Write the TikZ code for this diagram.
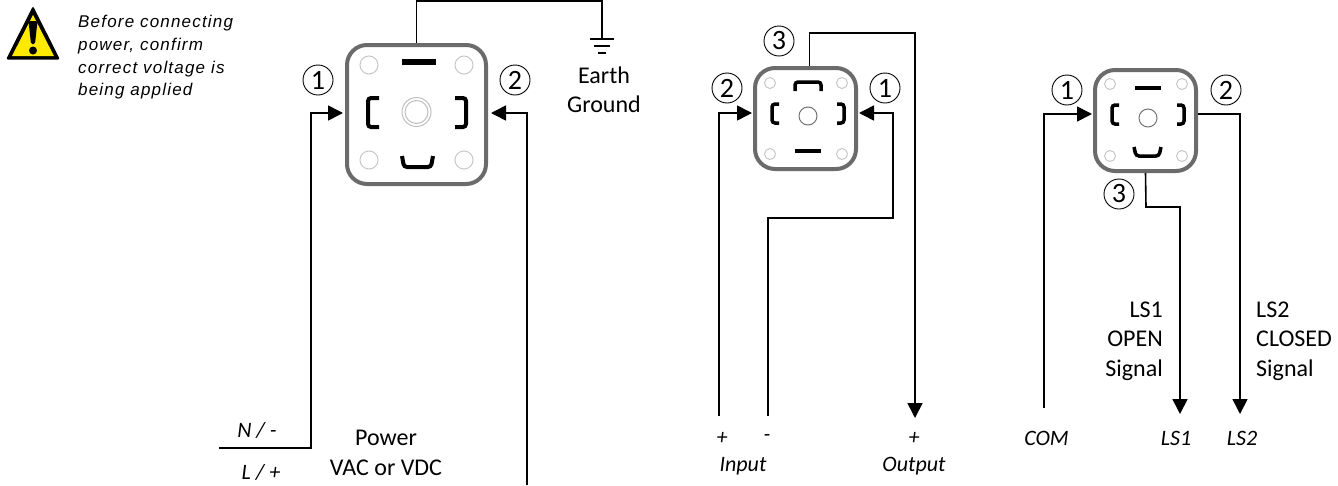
\documentclass[tikz,border=0pt]{standalone}
\usepackage{fontspec}
\setmainfont{Carlito}
\newfontfamily\warnfont[LetterSpace=7]{Liberation Sans}
\usetikzlibrary{arrows.meta}
\tikzset{
  portbox/.style={draw=black!58, line width=4pt, rounded corners=20pt, inner sep=0pt},
  bighole/.style={circle, draw=black!22, line width=1pt, inner sep=0pt, minimum size=18pt},
  smallhole/.style={circle, draw=black!22, line width=1pt, inner sep=0pt, minimum size=11pt},
  hub/.style={circle, draw=black!55, line width=1pt, inner sep=0pt, minimum size=18pt},
  pinmark/.style={line width=3.5pt, rounded corners=3pt},
  wire/.style={line width=1.6pt},
  pinnum/.style={circle, draw, line width=0.9pt, inner sep=0pt, minimum size=30pt, font=\fontsize{28}{28}\selectfont},
  sidelabel/.style={font=\fontsize{24}{29.5}\selectfont, align=center},
  portlabel/.style={font=\fontsize{22}{26}\selectfont\itshape},
}
\begin{document}
\begin{tikzpicture}[>={Triangle[length=15pt,width=15pt]}, x=1pt, y=-1pt]
\useasboundingbox (0,0) rectangle (1338,485);

% === Warning ===
\fill[black, rounded corners=2pt] (33,6) -- (60,59.5) -- (6,59.5) -- cycle;
\fill[yellow!92!orange] (33,15) -- (54,56) -- (12,56) -- cycle;
\fill[black, rounded corners=1.5pt] (28.5,21) -- (37.5,21) -- (35,44) -- (31,44) -- cycle;
\fill[black] (33,50.5) circle (4);
\node[anchor=north west, align=left, inner sep=0pt, font=\warnfont\itshape\fontsize{17}{22.8}\selectfont] (WarnText) at (78,15)
  {Before connecting\\power, confirm\\correct voltage is\\being applied};

% === Power Box ===
\node[portbox, minimum size=139pt] (PowerBox) at (416.5,114.5) {};
\foreach \i/\px/\py in {1/369/65, 2/464/65, 3/369/160, 4/464/160}{
  \node[bighole] (PowerHole-\i) at (\px,\py) {};
}
\node[hub, draw=black!25, minimum size=29pt] (PowerHubA) at (416.5,112) {};
\node[hub, draw=black!25, minimum size=23pt] (PowerHubB) at (416.5,112) {};
\draw[line width=6pt] (402,62) -- (436,62);
\draw[pinmark, line width=4pt] (379,98) -- (368,98) -- (368,127) -- (379,127);
\draw[pinmark, line width=4pt] (455,98) -- (466,98) -- (466,127) -- (455,127);
\draw[pinmark, line width=4pt] (402,156) -- (404,167) -- (431,167) -- (433,156);

% === Power Wires ===
\node[pinnum] (PowerNumA) at (318,80) {1};
\node[pinnum] (PowerNumB) at (515,80) {2};
\coordinate (PowerN) at (219,448);
\coordinate (PowerL) at (527,485);
\coordinate (EarthTop) at (602,38);
\draw[wire, ->, shorten >=2pt] (PowerN) -- (311,448) -- (311,113) -- (PowerBox.west |- 0,113);
\draw[wire, ->, shorten >=3pt] (PowerL) -- (527,113) -- (PowerBox.east |- 0,113);
\draw[wire] (PowerBox.north) -- (416.5,1) -- (602,1) -- (EarthTop);
\draw[wire] (590,39) -- (614,39);
\draw[wire] (594,46) -- (610,46);
\draw[wire] (598,53) -- (606,53);
\node[sidelabel] (EarthLabel) at (604,90) {Earth\\Ground};
\node[portlabel] (LabelN) at (257,430) {N / -};
\node[portlabel] (LabelL) at (261,472) {L / +};
\node[sidelabel] (PowerLabel) at (386,453) {Power\\VAC or VDC};

% === Valve Box ===
\node[portbox, minimum size=101pt] (ValveBox) at (805.5,118.5) {};
\foreach \i/\px/\py in {1/770/83, 2/842/83, 3/770/154, 4/842/154}{
  \node[smallhole] (ValveHole-\i) at (\px,\py) {};
}
\node[hub] (ValveHub) at (808,116) {};
\draw[pinmark] (795,91) -- (795,82) -- (821,82) -- (821,91);
\draw[pinmark] (779,104) -- (772,104) -- (772,123) -- (779,123);
\draw[pinmark] (837,104) -- (844,104) -- (844,123) -- (837,123);
\draw[line width=3.5pt] (795,151) -- (821,151);

% === Valve Wires ===
\node[pinnum] (ValveNumC) at (779,41) {3};
\node[pinnum] (ValveNumB) at (727,88) {2};
\node[pinnum] (ValveNumA) at (885,88) {1};
\coordinate (InPlus) at (719,416);
\coordinate (InMinus) at (768,416);
\coordinate (OutPlus) at (915,418);
\draw[wire, ->, shorten >=1pt] (InPlus) -- (719,113) -- (ValveBox.west |- 0,113);
\draw[wire, ->, shorten >=1pt] (InMinus) -- (768,218) -- (893,218) -- (893,113) -- (ValveBox.east |- 0,113);
\draw[wire, ->] (809.5,66) -- (809.5,33) -- (915,33) -- (OutPlus);
\node[portlabel] (LabelInP) at (722,438) {+};
\node[portlabel] (LabelInM) at (767,438) {-};
\node[portlabel] (LabelOutP) at (914,438) {+};
\node[portlabel] (LabelIn) at (743,466) {Input};
\node[portlabel] (LabelOut) at (914,466) {Output};

% === Switch Box ===
\node[portbox, minimum size=101pt] (SwitchBox) at (1145.5,120.5) {};
\foreach \i/\px/\py in {1/1110/84, 2/1182/84, 3/1110/156, 4/1182/156}{
  \node[smallhole] (SwitchHole-\i) at (\px,\py) {};
}
\node[hub] (SwitchHub) at (1148,118) {};
\draw[line width=3.5pt] (1135,88) -- (1161,88);
\draw[pinmark] (1119,105) -- (1112,105) -- (1112,124) -- (1119,124);
\draw[pinmark] (1177,105) -- (1184,105) -- (1184,124) -- (1177,124);
\draw[pinmark] (1134,147) -- (1136,156) -- (1159,156) -- (1161,147);

% === Switch Wires ===
\node[pinnum] (SwitchNumA) at (1067,90) {1};
\node[pinnum] (SwitchNumB) at (1226,90) {2};
\node[pinnum] (SwitchNumC) at (1119,194) {3};
\coordinate (ComEnd) at (1044,408);
\coordinate (LsOne) at (1180,414);
\coordinate (LsTwo) at (1240,414);
\draw[wire, ->, shorten >=1pt] (ComEnd) -- (1044,114) -- (SwitchBox.west |- 0,114);
\draw[wire, ->] (SwitchBox.south) -- (1146,207) -- (1180,207) -- (LsOne);
\draw[wire, ->] (SwitchBox.east |- 0,114) -- (1240,114) -- (LsTwo);
\node[sidelabel, align=right, anchor=east, inner sep=0pt] (OpenLabel) at (1163,341) {LS1\\OPEN\\Signal};
\node[sidelabel, align=left, anchor=west, inner sep=0pt] (ClosedLabel) at (1256,341) {LS2\\CLOSED\\Signal};
\node[portlabel] (LabelCom) at (1046.5,438) {COM};
\node[portlabel] (LabelOne) at (1176,438) {LS1};
\node[portlabel] (LabelTwo) at (1242,438) {LS2};
\end{tikzpicture}
\end{document}
